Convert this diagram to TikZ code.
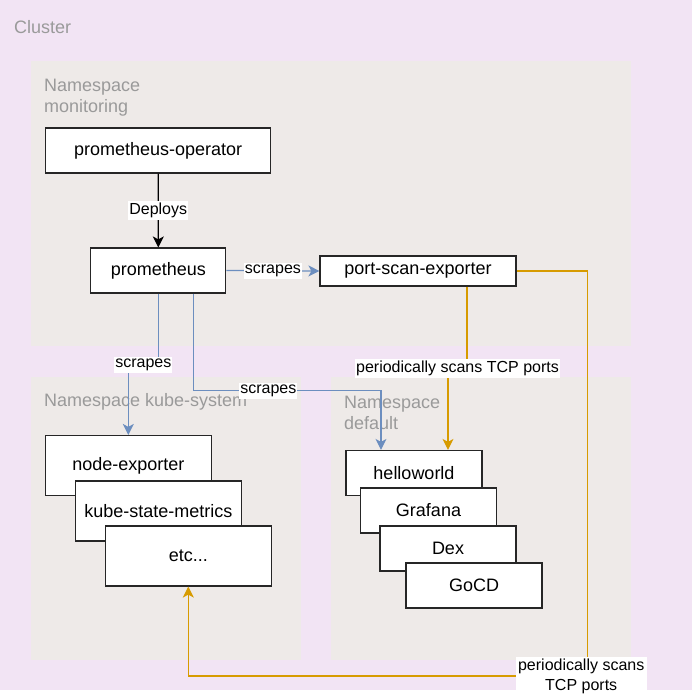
\documentclass[tikz,border=0pt]{standalone}
\usepackage{fontspec}
\setmainfont{Liberation Sans}
\usetikzlibrary{arrows.meta}
\definecolor{clusterpink}{HTML}{F2E4F4}
\definecolor{nsgrey}{HTML}{EEEAE8}
\definecolor{scrapeblue}{HTML}{6C8EBF}
\definecolor{scanorange}{HTML}{D79B00}
\definecolor{grouptext}{HTML}{9A9A9A}
\begin{document}
\begin{tikzpicture}[x=1pt,y=1pt]
    \tikzstyle{every node}+=[inner sep=0pt]
    \tikzstyle{pod}=[draw=black!85, fill=white, line width=1.2pt, font=\fontsize{18}{21}\selectfont]
    \tikzstyle{grouplabel}=[anchor=west, align=left, text=grouptext, font=\fontsize{18}{21}\selectfont]
    \tikzstyle{edgelabel}=[fill=white, text=black, inner xsep=1pt, inner ysep=2pt, font=\fontsize{16}{20}\selectfont]
    \tikzstyle{deploys}=[black, line width=1.2pt, -{Stealth[length=11pt,width=11pt,inset=3pt]}]
    \tikzstyle{scrapes}=[scrapeblue, line width=1.2pt, -{Stealth[length=11pt,width=11pt,inset=3pt]}]
    \tikzstyle{scans}=[scanorange, line width=1.2pt, -{Stealth[length=11pt,width=11pt,inset=3pt]}]
    \useasboundingbox (0,0) rectangle (692,-695);
    \fill [clusterpink] (0,0) rectangle (692,-690);
    \fill [nsgrey] (31,-61) rectangle (631,-346);
    \fill [nsgrey] (31,-377) rectangle (301,-660);
    \fill [nsgrey] (331,-377) rectangle (631,-660);
    \node [grouplabel] (clusterlbl) at (14,-27) {Cluster};
    \node [grouplabel] (monlbl) at (44,-97.5) {Namespace\\monitoring};
    \node [grouplabel] (kubelbl) at (44,-402) {Namespace kube-system};
    \node [grouplabel] (deflbl) at (344,-412.5) {Namespace\\default};
    \node [pod, minimum width=225, minimum height=45] (op) at (158.2,-150.5) {prometheus-operator};
    \node [pod, minimum width=135, minimum height=45] (prom) at (158.3,-270.5) {prometheus};
    \node [pod, minimum width=196, minimum height=30] (pse) at (418,-271) {port-scan-exporter};
    \node [pod, minimum width=166, minimum height=60] (ne) at (128.3,-465.5) {node-exporter};
    \node [pod, minimum width=166, minimum height=60] (ksm) at (158.3,-511) {kube-state-metrics};
    \node [pod, minimum width=166, minimum height=60] (etc) at (188.3,-556) {etc...};
    \node [pod, minimum width=136, minimum height=45] (hello) at (414,-473) {helloworld};
    \node [pod, minimum width=136, minimum height=45] (graf) at (428.5,-510.5) {Grafana};
    \node [pod, minimum width=136, minimum height=45] (dex) at (448,-548.5) {Dex};
    \node [pod, minimum width=136, minimum height=45] (gocd) at (474,-585.5) {GoCD};
    \draw [deploys] (op.south) -- node [edgelabel] {Deploys} (prom.north);
    \draw [scrapes] (prom.east) -- node [edgelabel] {scrapes} (pse.west);
    \draw [scrapes] (prom.south) -- ++(0,-71) -| node [edgelabel, pos=0.25] {scrapes} (ne.north);
    \draw [scrapes] ([xshift=35pt]prom.south) -- ++(0,-97) -| node [edgelabel, pos=0.2] {scrapes} ([xshift=-33pt]hello.north);
    \draw [scans] ([xshift=49pt]pse.south) -- ++(0,-82) -| node [edgelabel, pos=0.25] {periodically scans TCP ports} ([xshift=34pt]hello.north);
    \draw [scans] (pse.east) -- ++(71,0) -- ++(0,-405) -| node [edgelabel, align=center, inner xsep=2.5pt, pos=0.008] {periodically scans\\TCP ports} (etc.south);
\end{tikzpicture}
\end{document}
